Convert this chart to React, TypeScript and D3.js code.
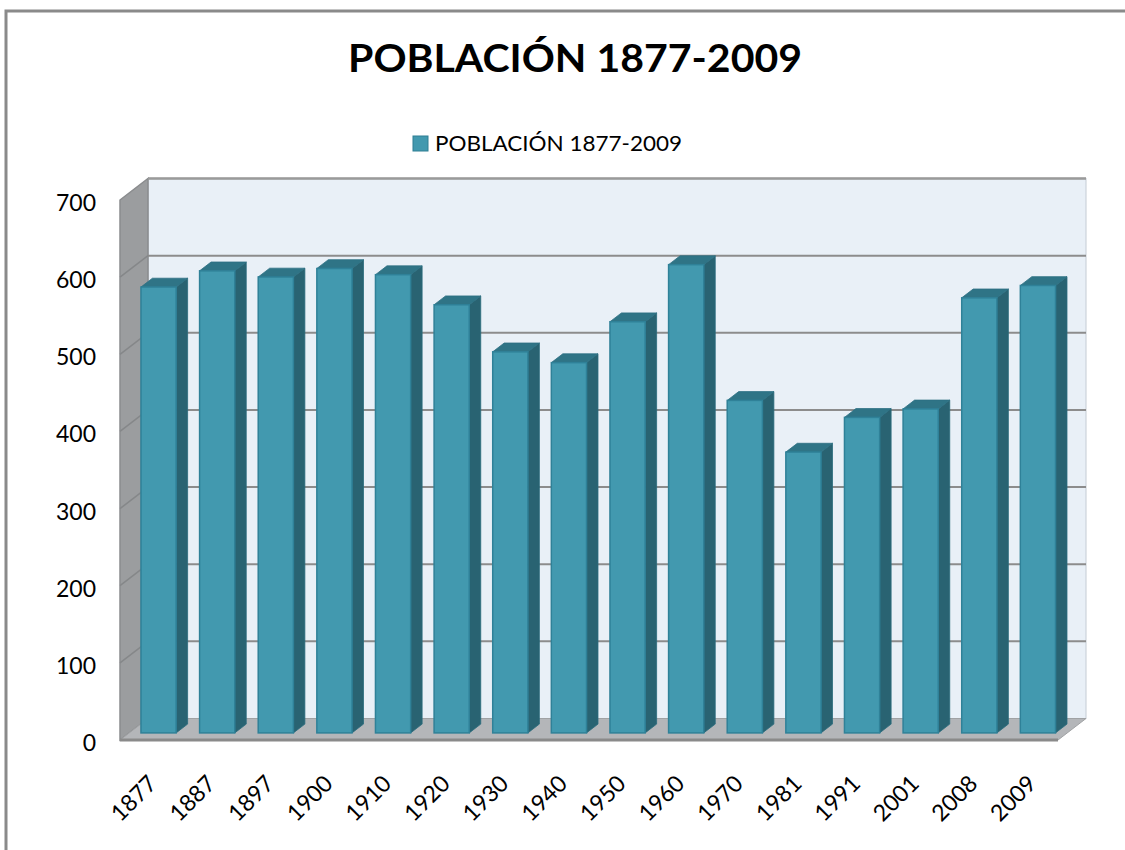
import * as d3 from "d3"

const years = ["1877", "1887", "1897", "1900", "1910", "1920", "1930", "1940", "1950", "1960", "1970", "1981", "1991", "2001", "2008", "2009"]
const poblacion = [578, 599, 591, 602, 594, 555, 494, 480, 533, 607, 431, 364, 409, 420, 564, 580]
const yTicks = [0, 100, 200, 300, 400, 500, 600, 700]
const title = "POBLACIÓN 1877-2009"
const seriesName = "POBLACIÓN 1877-2009"

const W = 1125
const H = 850
// front plane of the 3D box
const left = 120
const right = 1058
const bottom = 740
const top = 200
// depth offset (front -> back)
const DX = 28
const DY = -21.5
// bar depth range (fraction of box depth)
const d0 = 0.33
const d1 = 0.74

const FONT = "Lato, 'Open Sans', sans-serif"

export default function App() {
  const x = d3.scaleBand<string>().domain(years).range([left, right]).paddingInner(0.4).paddingOuter(0.2)
  const y = d3.scaleLinear().domain([0, 700]).range([bottom, top])

  const pts = (p: [number, number][]) => p.map((q) => q.join(",")).join(" ")

  return (
    <svg width={W} height={H} style={{ position: "absolute", left: 0, top: 0, background: "#fff" }}>
      {/* outer chart border */}
      <path d={`M6,${H} L6,11 L${W},11`} fill="none" stroke="#8a8a8a" strokeWidth={3} />

      {/* title */}
      <text x={575} y={72} textAnchor="middle" fontFamily={FONT} fontWeight="bold" fontSize={38} textLength={454} lengthAdjust="spacingAndGlyphs" fill="#000">
        {title}
      </text>

      {/* legend */}
      <rect x={413} y={136} width={15} height={15} fill="#4299af" stroke="#2e7f93" strokeWidth={1} />
      <text x={435} y={151} fontFamily={FONT} fontSize={21} textLength={247} lengthAdjust="spacingAndGlyphs" fill="#000">
        {seriesName}
      </text>

      {/* back wall */}
      <rect x={left + DX} y={top + DY} width={right - left} height={bottom - top} fill="#e9f0f7" stroke="#c4ccd4" strokeWidth={1} />
      {/* left side wall */}
      <polygon
        points={pts([
          [left, y(700)],
          [left + DX, y(700) + DY],
          [left + DX, bottom + DY],
          [left, bottom],
        ])}
        fill="#9b9d9f"
        stroke="#8a8c8e"
        strokeWidth={1.5}
      />
      {/* floor */}
      <polygon
        points={pts([
          [left, bottom],
          [left + DX, bottom + DY],
          [right + DX, bottom + DY],
          [right, bottom],
        ])}
        fill="#b4b6b9"
        stroke="#a0a2a4"
        strokeWidth={1}
      />
      <line x1={left} x2={right} y1={bottom} y2={bottom} stroke="#8a8a8a" strokeWidth={3} />

      {/* gridlines */}
      {yTicks.map((t) => (
        <g key={t}>
          {t > 0 && (
            <line x1={left + DX} x2={right + DX} y1={y(t) + DY} y2={y(t) + DY} stroke="#8c8c8c" strokeWidth={2} />
          )}
          {t > 0 && t < 700 && (
            <line x1={left} x2={left + DX} y1={y(t)} y2={y(t) + DY} stroke="#858789" strokeWidth={1.5} />
          )}
        </g>
      ))}
      <line x1={left + DX} x2={right + DX} y1={y(700) + DY} y2={y(700) + DY} stroke="#9a9a9a" strokeWidth={2} />

      {/* bars */}
      {years.map((yr, i) => {
        const v = poblacion[i]
        const bx = (x(yr) ?? 0) + d0 * DX
        const bw = x.bandwidth()
        const by0 = bottom + d0 * DY
        const by1 = y(v) + d0 * DY
        const ddx = (d1 - d0) * DX
        const ddy = (d1 - d0) * DY
        return (
          <g key={yr}>
            {/* side */}
            <polygon
              points={pts([
                [bx + bw, by1],
                [bx + bw + ddx, by1 + ddy],
                [bx + bw + ddx, by0 + ddy],
                [bx + bw, by0],
              ])}
              fill="#296372"
              stroke="#2a6b7c"
              strokeWidth={0.8}
            />
            {/* top */}
            <polygon
              points={pts([
                [bx, by1],
                [bx + ddx, by1 + ddy],
                [bx + bw + ddx, by1 + ddy],
                [bx + bw, by1],
              ])}
              fill="#2f7486"
              stroke="#2d7083"
              strokeWidth={0.8}
            />
            {/* front */}
            <rect x={bx} y={by1} width={bw} height={by0 - by1} fill="#4299af" stroke="#2f8198" strokeWidth={1.5} />
          </g>
        )
      })}

      {/* y axis labels */}
      {yTicks.map((t) => (
        <text key={t} x={96} y={y(t) + 3} dy="0.35em" textAnchor="end" fontFamily={FONT} fontSize={23} fill="#000">
          {t}
        </text>
      ))}

      {/* x axis labels */}
      {years.map((yr) => {
        const cx = (x(yr) ?? 0) + x.bandwidth() / 2
        return (
          <text
            key={yr}
            transform={`translate(${cx + 9},${785}) rotate(-45)`}
            textAnchor="end"
            fontFamily={FONT}
            fontSize={23}
            fill="#000"
          >
            {yr}
          </text>
        )
      })}
    </svg>
  )
}
